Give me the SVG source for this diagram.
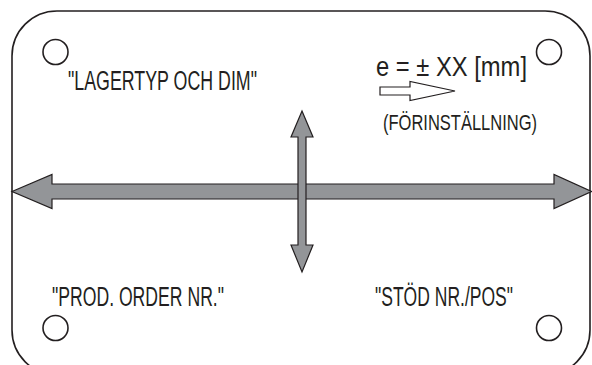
<svg xmlns="http://www.w3.org/2000/svg" width="592" height="365" viewBox="0 0 592 365">
<style>
.plate{fill:#fff;stroke:#231f20;stroke-width:1.6}
.hole{fill:none;stroke:#231f20;stroke-width:1.6}
.big{fill:#939598;stroke:#231f20;stroke-width:1.2;stroke-linejoin:miter}
.hollow{fill:#fff;stroke:#231f20;stroke-width:1.2}
text{font-family:"Liberation Sans",Arial,sans-serif;fill:#231f20}
.t1{font-size:27px}
.t2{font-size:22px}
</style>
<rect width="592" height="365" fill="#fff"/>
<g id="plate">
<rect class="plate" x="12" y="11" width="578" height="364" rx="45" ry="45"/>
</g>
<g id="holes">
<circle class="hole" cx="55.5" cy="52" r="12.5"/>
<circle class="hole" cx="549" cy="52" r="12.5"/>
<circle class="hole" cx="55.5" cy="328" r="12.5"/>
<circle class="hole" cx="549" cy="328" r="12.5"/>
</g>
<g id="connectors">
<polygon class="big" points="12,191.5 52,174.5 52,184 554,184 554,174.5 591.5,191.5 554,208.5 554,199 52,199 52,208.5"/>
<polygon class="big" points="302,111 313,137 306,137 306,245 313,245 302,272 291,245 298,245 298,137 291,137"/>
<polygon class="hollow" points="380,87 410,87 410,81.5 455,91 410,100.5 410,95 380,95"/>
</g>
<g id="label-lagertyp">
<text class="t1" x="68" y="90" textLength="189" lengthAdjust="spacingAndGlyphs">"LAGERTYP OCH DIM"</text>
</g>
<g id="label-e">
<text class="t1" x="376" y="76" textLength="151" lengthAdjust="spacingAndGlyphs">e = ± XX [mm]</text>
</g>
<g id="label-forinstallning">
<text class="t2" x="383" y="130" textLength="154" lengthAdjust="spacingAndGlyphs">(FÖRINSTÄLLNING)</text>
</g>
<g id="label-prod">
<text class="t1" x="52" y="306" textLength="172" lengthAdjust="spacingAndGlyphs">"PROD. ORDER NR."</text>
</g>
<g id="label-stod">
<text class="t1" x="375" y="306" textLength="138" lengthAdjust="spacingAndGlyphs">"STÖD NR./POS"</text>
</g>
</svg>
